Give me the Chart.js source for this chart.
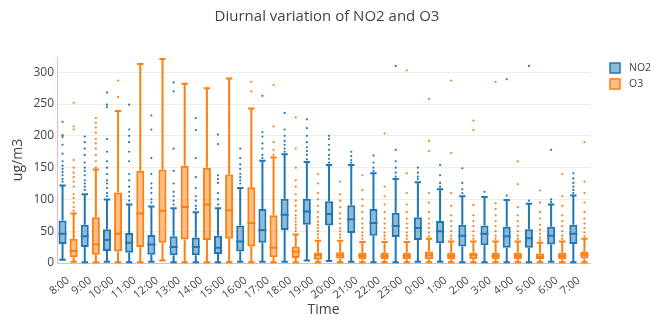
<!DOCTYPE html>
<html>
<head>
<meta charset="utf-8">
<script src="https://cdn.jsdelivr.net/npm/chart.js@4.4.1/dist/chart.umd.min.js"></script>
<style>
  html, body { margin: 0; padding: 0; background: #fff; }
  #wrap { width: 651px; height: 322px; }
</style>
</head>
<body>
<div id="wrap"><canvas id="box-chart" width="651" height="322"></canvas></div>
<script>
const hours = ['8:00','9:00','10:00','11:00','12:00','13:00','14:00','15:00','16:00','17:00','18:00','19:00',
  '20:00','21:00','22:00','23:00','0:00','1:00','2:00','3:00','4:00','5:00','6:00','7:00'];
const yTicks = [0, 50, 100, 150, 200, 250, 300];

// NO2 box stats
const no2Low  = [5,1,2,1,2,1,1,1,2,2,2,4,3,2,1,1,2,2,1,1,1,1,2,1];
const no2Q1   = [30,25,19,16,13,12,12,14,18,32,52,60,59,47,43,41,36,31,26,28,24,24,29,30];
const no2Med  = [46,42,36,32,29,25,25,24,34,52,76,81,77,69,63,58,55,50,43,46,42,39,43,46];
const no2Q3   = [67,60,53,47,44,42,40,43,59,85,101,101,97,91,85,79,72,66,60,59,57,53,57,60];
const no2High = [122,108,100,92,89,86,80,86,118,161,171,159,154,154,141,132,127,116,105,104,99,93,92,106];
const no2Out = [
  [128,132,138,143,148,153,160,172,186,198,201,222],
  [115,120,125,130,138,145,150,158,170,180,190,199],
  [105,110,118,125,130,140,150,160,175,195,245,249,268],
  [98,105,112,120,130,140,160,175,190,200,210,249],
  [95,100,110,118,125,140,165,210,232],
  [92,98,105,112,125,145,180,270,284],
  [85,90,98,105,118,135,165,209,228],
  [92,100,110,126,132,138,187,202],
  [125,130,135,140,148,155,165,180],
  [165,170,180,188,199,206,263],
  [175,180,186,192,200,210,236],
  [163,170,176,182,190,200,212,226],
  [158,164,170,178,186,195,200],
  [158,162,168,175],
  [145,150,158,169],
  [136,142,150,160,178,310],
  [132,136,142,150],
  [120,126,138,154],
  [110,116,126,149],
  [112],
  [106,289],
  [98,310],
  [96,100,178],
  [110,115,120,126,133,141]
];

// O3 box stats
const o3Low  = [2,1,1,1,4,1,1,1,1,1,1,1,1,1,1,1,1,1,1,1,1,1,1,1];
const o3Q1   = [9,13,18,25,32,37,36,38,26,9,8,5,7,6,6,6,6,6,6,6,6,6,6,7];
const o3Med  = [19,29,46,78,82,88,92,83,63,24,18,12,12,11,11,11,12,11,12,11,11,10,11,13];
const o3Q3   = [38,72,111,145,147,153,150,139,119,75,26,16,17,16,16,16,18,16,16,16,16,15,16,18];
const o3High = [78,147,239,313,321,282,275,290,243,166,45,35,35,33,33,33,38,34,34,34,34,32,34,38];
const o3Out = [
  [82,88,95,102,108,120,128,135,142,150,162,210,215,252],
  [150,160,170,180,188,195,205,213,220,228],
  [261,287],
  [],
  [],
  [],
  [],
  [],
  [270,285],
  [170,178,190,215,280],
  [50,55,60,65,70,75,82,90,98,108,120,130,150,180,229],
  [40,45,50,55,60,65,72,80,90,100,110,125,140],
  [40,45,50,55,62,70,78,88,98,108,128],
  [38,43,48,55,62,70,80,90,100,115,138],
  [38,43,48,55,62,70,80,92,105,120,204],
  [38,43,48,55,62,70,80,92,110,141,303],
  [42,48,55,62,70,80,95,110,176,192,258],
  [38,43,50,58,66,75,90,110,173,287],
  [38,43,50,58,66,75,91,209,224],
  [38,43,50,58,66,75,85,94,285],
  [38,43,50,58,66,75,88,124,160],
  [36,40,46,52,60,70,80,95,114],
  [38,43,50,58,66,75,90,105,140],
  [42,48,55,62,70,80,95,110,128,190]
];

const whiskerPlugin = {
  id: 'whiskers',
  afterDatasetsDraw(chart) {
    const ctx = chart.ctx;
    const y = chart.scales.y;
    chart.data.datasets.forEach((ds, di) => {
      const meta = chart.getDatasetMeta(di);
      ctx.save();
      ctx.strokeStyle = ds.borderColor;
      ctx.fillStyle = ds.borderColor;
      ctx.lineWidth = 2;
      meta.data.forEach((bar, i) => {
        const x = bar.x;
        const w = bar.width;
        const cap = w * 0.4;
        ctx.beginPath();
        ctx.moveTo(x, y.getPixelForValue(ds.low[i]));
        ctx.lineTo(x, y.getPixelForValue(ds.q1[i]));
        ctx.moveTo(x, y.getPixelForValue(ds.q3[i]));
        ctx.lineTo(x, y.getPixelForValue(ds.high[i]));
        ctx.moveTo(x - cap, y.getPixelForValue(ds.low[i]));
        ctx.lineTo(x + cap, y.getPixelForValue(ds.low[i]));
        ctx.moveTo(x - cap, y.getPixelForValue(ds.high[i]));
        ctx.lineTo(x + cap, y.getPixelForValue(ds.high[i]));
        ctx.moveTo(x - w / 2, y.getPixelForValue(ds.med[i]));
        ctx.lineTo(x + w / 2, y.getPixelForValue(ds.med[i]));
        ctx.stroke();
        ds.out[i].forEach(v => {
          ctx.beginPath();
          ctx.arc(x, y.getPixelForValue(v), 1.1, 0, Math.PI * 2);
          ctx.fill();
        });
      });
      ctx.restore();
    });
  }
};

// title centred on the page and a small legend right of the plot
const sideLegend = {
  id: 'sideLegend',
  afterDraw(chart) {
    const ctx = chart.ctx;
    ctx.save();
    ctx.fillStyle = '#444';
    ctx.font = '15px "Open Sans"';
    ctx.textAlign = 'center';
    ctx.textBaseline = 'middle';
    ctx.fillText('Diurnal variation of NO2 and O3', 327, 17);

    const left = chart.chartArea.right + 20;
    let top = chart.chartArea.top + 6;
    ctx.font = '10.5px "Open Sans"';
    ctx.textAlign = 'left';
    chart.data.datasets.forEach(ds => {
      ctx.fillStyle = ds.backgroundColor;
      ctx.fillRect(left, top, 10, 10);
      ctx.strokeStyle = ds.borderColor;
      ctx.lineWidth = 1.5;
      ctx.strokeRect(left, top, 10, 10);
      ctx.fillStyle = '#444';
      ctx.fillText(ds.label, left + 19, top + 5);
      top += 16;
    });
    ctx.restore();
  }
};

const boxCtx = document.getElementById('box-chart').getContext('2d');
const boxChart = new Chart(boxCtx, {
  type: 'bar',
  plugins: [whiskerPlugin, sideLegend],
  data: {
    labels: hours,
    datasets: [
      {
        label: 'NO2',
        data: no2Q1.map((v, i) => [v, no2Q3[i]]),
        low: no2Low, q1: no2Q1, med: no2Med, q3: no2Q3, high: no2High, out: no2Out,
        backgroundColor: 'rgba(31, 119, 180, 0.5)',
        borderColor: 'rgba(31, 119, 180, 1)',
        borderWidth: 2,
        borderSkipped: false
      },
      {
        label: 'O3',
        data: o3Q1.map((v, i) => [v, o3Q3[i]]),
        low: o3Low, q1: o3Q1, med: o3Med, q3: o3Q3, high: o3High, out: o3Out,
        backgroundColor: 'rgba(255, 127, 14, 0.5)',
        borderColor: 'rgba(255, 127, 14, 1)',
        borderWidth: 2,
        borderSkipped: false
      }
    ]
  },
  options: {
    responsive: false,
    animation: false,
    layout: { padding: { left: 10, right: 61, top: 57, bottom: 4 } },
    datasets: { bar: { categoryPercentage: 1.0, barPercentage: 0.72 } },
    scales: {
      x: {
        afterFit: (axis) => { axis.height = 55; },
        grid: { display: false },
        border: { color: '#e6b8cf', width: 1 },
        ticks: { autoSkip: false, minRotation: 38, maxRotation: 38, color: '#444', font: { family: 'Open Sans', size: 11 }, padding: 3 },
        title: { display: true, text: 'Time', color: '#444', font: { family: 'Open Sans', size: 14 }, padding: 0 }
      },
      y: {
        min: 0,
        max: 324,
        afterFit: (axis) => { axis.width = 47; },
        afterBuildTicks: (axis) => { axis.ticks = yTicks.map(v => ({ value: v })); },
        grid: { color: '#eeeeee', drawTicks: false },
        border: { color: '#e6b8cf', width: 1 },
        ticks: { color: '#444', font: { family: 'Open Sans', size: 12 }, padding: 3 },
        title: { display: true, text: 'ug/m3', color: '#444', font: { family: 'Open Sans', size: 14 }, padding: 0 }
      }
    },
    plugins: {
      title: { display: false },
      legend: { display: false },
      tooltip: { enabled: false }
    }
  }
});
</script>
</body>
</html>
